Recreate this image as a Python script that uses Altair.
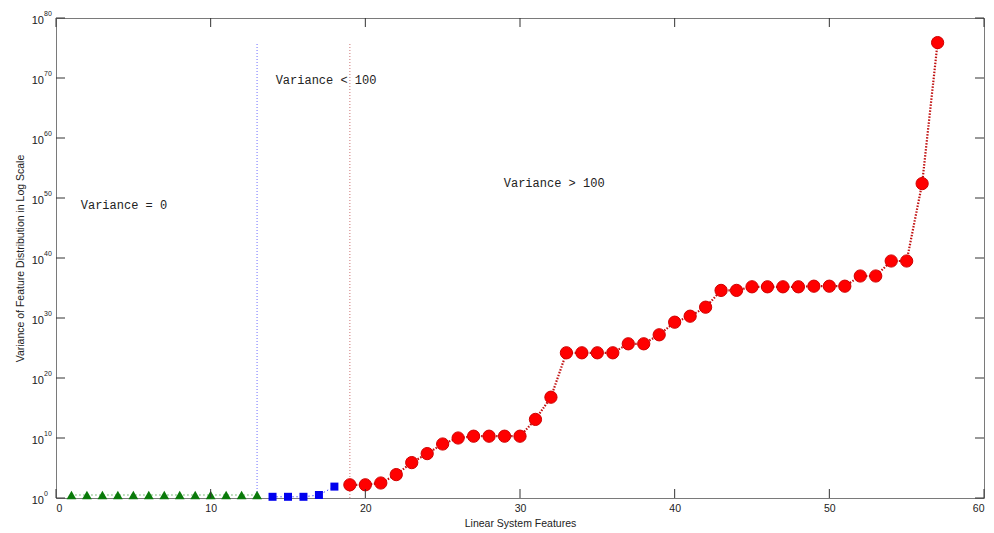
import altair as alt
import pandas as pd

# Feature index and log10 of the variance of each feature, per variance group
zero_ids = [1, 2, 3, 4, 5, 6, 7, 8, 9, 10, 11, 12, 13]
zero_log_var = [0.5, 0.5, 0.5, 0.5, 0.5, 0.5, 0.5, 0.5, 0.5, 0.5, 0.5, 0.5, 0.5]

low_ids = [14, 15, 16, 17, 18]
low_log_var = [0.2, 0.2, 0.2, 0.5, 1.9]

high_ids = list(range(19, 58))
high_log_var = [2.2, 2.2, 2.5, 3.9, 5.9, 7.4, 9.0, 10.0, 10.3, 10.3,
                10.3, 10.3, 13.1, 16.8, 24.2, 24.2, 24.2, 24.2, 25.7, 25.7,
                27.2, 29.3, 30.3, 31.8, 34.6, 34.6, 35.2, 35.2, 35.2, 35.2,
                35.3, 35.3, 35.3, 37.0, 37.0, 39.5, 39.5, 52.4, 75.9]

# Group boundaries
boundary_x = [13, 19]
boundary_color = ["#4a4aff", "#c05050"]

# Region labels: text, x, log10 y
notes = ["Variance = 0", "Variance < 100", "Variance > 100"]
note_x = [1.6, 14.2, 28.95]
note_log_y = [48.8, 69.7, 52.5]

x_ticks = [0, 10, 20, 30, 40, 50, 60]
y_tick_exp = [0, 10, 20, 30, 40, 50, 60, 70, 80]

W, H = 928, 480


def frame(ids, logs):
    return pd.DataFrame({"x": ids, "v": [10.0 ** e for e in logs]})


zero_df = frame(zero_ids, zero_log_var)
low_df = frame(low_ids, low_log_var)
high_df = frame(high_ids, high_log_var)

top_var = max(10.0 ** e for e in high_log_var)
bound_df = pd.DataFrame({"x": boundary_x, "v0": [1.0, 1.0],
                         "v1": [top_var, top_var], "c": boundary_color})
note_df = pd.DataFrame({"t": notes, "x": note_x,
                        "v": [10.0 ** e for e in note_log_y]})
xt_df = pd.DataFrame({"x": x_ticks})
yt_df = pd.DataFrame({"v": [10.0 ** e for e in y_tick_exp],
                      "e": [str(e) for e in y_tick_exp]})

xs = alt.Scale(domain=[0, 60], nice=False, zero=False)
ys = alt.Scale(type="log", domain=[1.0, 1e80], nice=False)

x_axis = alt.Axis(values=x_ticks, ticks=False, domain=False, grid=False,
                  labelFont="Liberation Sans", labelFontSize=10.5,
                  labelColor="#222222", labelPadding=5,
                  title="Linear System Features", titleFont="Liberation Sans",
                  titleFontSize=10.5, titleFontWeight="normal",
                  titleColor="#222222", titleY=25, titleBaseline="middle")
y_axis = alt.Axis(labels=False, ticks=False, domain=False, grid=False,
                  title="Variance of Feature Distribution in Log Scale",
                  titleFont="Liberation Sans", titleFontSize=10.5,
                  titleFontWeight="normal", titleColor="#222222",
                  titleX=-36, titleY=H / 2, titleAngle=-90,
                  titleAlign="center", titleBaseline="middle")


def X(field="x"):
    return alt.X(f"{field}:Q", scale=xs, axis=x_axis)


def Y(field="v"):
    return alt.Y(f"{field}:Q", scale=ys, axis=y_axis)


bounds = alt.Chart(bound_df).mark_rule(strokeWidth=1, strokeDash=[1, 2],
                                       opacity=0.8).encode(
    x=X(), y=Y("v0"), y2="v1:Q", color=alt.Color("c:N", scale=None))

zero_line = alt.Chart(zero_df).mark_line(color="#008000", strokeWidth=1,
                                         strokeDash=[1, 3]).encode(x=X(), y=Y())
zero_pts = alt.Chart(zero_df).mark_point(shape="triangle-up", filled=True,
                                         color="#0a7a0a", size=95,
                                         opacity=1).encode(x=X(), y=Y())

low_line = alt.Chart(low_df).mark_line(color="#0000ff", strokeWidth=1,
                                       strokeDash=[1, 3]).encode(x=X(), y=Y())
low_pts = alt.Chart(low_df).mark_point(shape="square", filled=True,
                                       color="#0000ee", size=64,
                                       opacity=1).encode(x=X(), y=Y())

high_line = alt.Chart(high_df).mark_line(color="#c01010", strokeWidth=2.2,
                                         strokeDash=[1.5, 1.5]).encode(x=X(), y=Y())
high_pts = alt.Chart(high_df).mark_point(shape="circle", filled=True,
                                         fill="#ff0000", stroke="#d00000",
                                         strokeWidth=1, size=150,
                                         opacity=1).encode(x=X(), y=Y())

note_text = alt.Chart(note_df).mark_text(align="left", baseline="middle",
                                         font="Liberation Mono", fontSize=12,
                                         color="#222222").encode(
    x=X(), y=Y(), text="t:N")

tick_style = dict(color="#333333", strokeWidth=1)
xt_bottom = alt.Chart(xt_df).mark_rule(**tick_style).encode(
    x=X(), y=alt.value(H), y2=alt.value(H - 9))
xt_top = alt.Chart(xt_df).mark_rule(**tick_style).encode(
    x=X(), y=alt.value(0), y2=alt.value(9))
yt_left = alt.Chart(yt_df).mark_rule(**tick_style).encode(
    y=Y(), x=alt.value(0), x2=alt.value(9))
yt_right = alt.Chart(yt_df).mark_rule(**tick_style).encode(
    y=Y(), x=alt.value(W), x2=alt.value(W - 9))

y_base = alt.Chart(yt_df).mark_text(align="right", baseline="middle",
                                    font="Liberation Sans", fontSize=11,
                                    color="#222222", dy=3).encode(
    y=Y(), x=alt.value(-12), text=alt.value("10"))
y_sup = alt.Chart(yt_df).mark_text(align="left", baseline="middle",
                                   font="Liberation Sans", fontSize=7,
                                   color="#222222", dy=-4).encode(
    y=Y(), x=alt.value(-12), text="e:N")

chart = alt.layer(
    bounds, zero_line, low_line, high_line, zero_pts, low_pts, high_pts,
    note_text, xt_bottom, xt_top, yt_left, yt_right, y_base, y_sup
).properties(
    width=W, height=H,
    autosize=alt.AutoSizeParams(type="none"),
    padding={"left": 56, "top": 18, "right": 10, "bottom": 35},
    background="white",
).configure_view(stroke="#7a7a7a", strokeWidth=1)

chart.save("out.html", embed_options={"renderer": "svg", "actions": False})
